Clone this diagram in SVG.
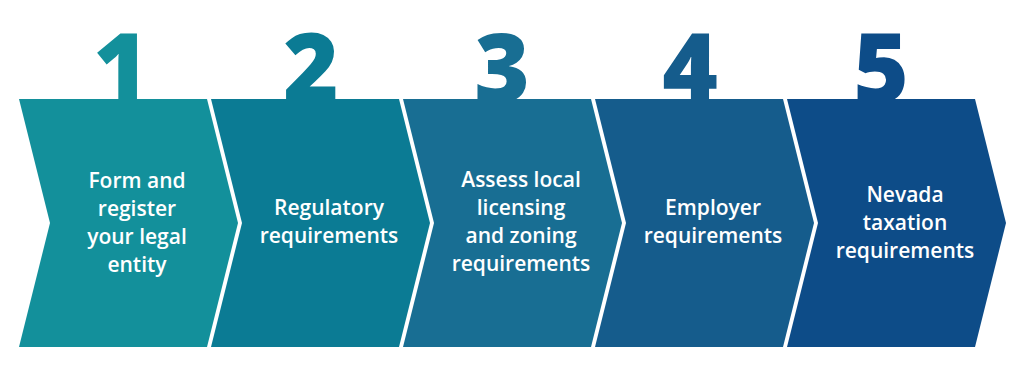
<svg xmlns="http://www.w3.org/2000/svg" width="1024" height="371" viewBox="0 0 1024 371">
  <defs>
    <style>
      .num { font-family: "Open Sans", "Liberation Sans", sans-serif; font-weight: 800; font-size: 95px; text-anchor: middle; }
      .lbl { font-family: "Open Sans", "Liberation Sans", sans-serif; font-weight: 600; font-size: 21px; fill: #ffffff; text-anchor: middle; }
      .c1 { fill: #13909b; }
      .c2 { fill: #0b7b94; }
      .c3 { fill: #186e93; }
      .c4 { fill: #155c8c; }
      .c5 { fill: #0d4c88; }
    </style>
    <polygon id="chev" points="19,99 207,99 238,223 207,347 19,347 50,223"/>
  </defs>
  <rect width="1024" height="371" fill="#ffffff"/>
  <g id="numbers">
    <text class="num c1" x="121" y="102">1</text>
    <text class="num c2" x="311" y="102">2</text>
    <text class="num c3" x="502" y="102">3</text>
    <text class="num c4" x="690" y="102">4</text>
    <text class="num c5" x="881" y="102">5</text>
  </g>
  <g id="step1">
    <use href="#chev" class="c1"/>
    <text class="lbl" x="137"><tspan x="137" y="188">Form and</tspan><tspan x="137" y="216">register</tspan><tspan x="137" y="244">your legal</tspan><tspan x="137" y="272">entity</tspan></text>
  </g>
  <g id="step2">
    <use href="#chev" class="c2" x="192"/>
    <text class="lbl" x="329"><tspan x="329" y="215">Regulatory</tspan><tspan x="329" y="243">requirements</tspan></text>
  </g>
  <g id="step3">
    <use href="#chev" class="c3" x="384"/>
    <text class="lbl" x="521"><tspan x="521" y="187">Assess local</tspan><tspan x="521" y="215">licensing</tspan><tspan x="521" y="243">and zoning</tspan><tspan x="521" y="271">requirements</tspan></text>
  </g>
  <g id="step4">
    <use href="#chev" class="c4" x="576"/>
    <text class="lbl" x="713"><tspan x="713" y="215">Employer</tspan><tspan x="713" y="243">requirements</tspan></text>
  </g>
  <g id="step5">
    <use href="#chev" class="c5" x="768"/>
    <text class="lbl" x="905"><tspan x="905" y="202">Nevada</tspan><tspan x="905" y="230">taxation</tspan><tspan x="905" y="258">requirements</tspan></text>
  </g>
  <g id="connectors"></g>
</svg>
